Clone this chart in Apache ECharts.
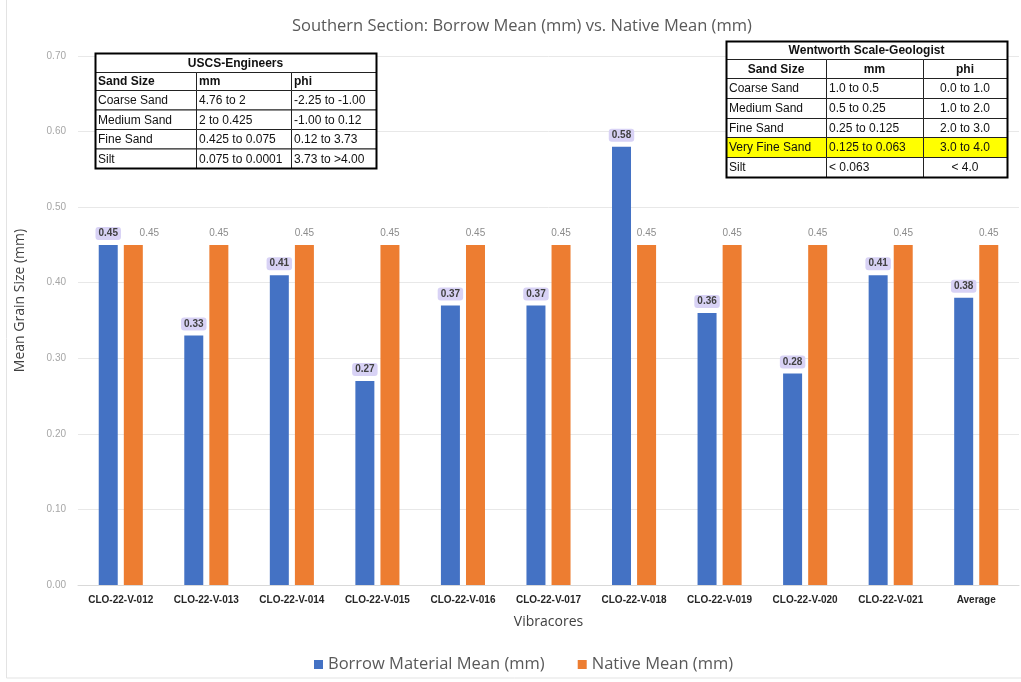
<!DOCTYPE html>
<html>
<head>
<meta charset="utf-8">
<script src="https://cdn.jsdelivr.net/npm/echarts@6/dist/echarts.min.js"></script>
<style>
  html, body { margin: 0; padding: 0; background: #ffffff; }
  #chart { width: 1021px; height: 682px; }
</style>
</head>
<body>
<div id="chart"></div>
<script>
// Vibracore sample names along the x axis
const categories = [
  'CLO-22-V-012', 'CLO-22-V-013', 'CLO-22-V-014', 'CLO-22-V-015', 'CLO-22-V-016',
  'CLO-22-V-017', 'CLO-22-V-018', 'CLO-22-V-019', 'CLO-22-V-020', 'CLO-22-V-021', 'Average'
];

// Mean grain size (mm)
const borrowMean = [0.45, 0.33, 0.41, 0.27, 0.37, 0.37, 0.58, 0.36, 0.28, 0.41, 0.38];
const nativeMean = [0.45, 0.45, 0.45, 0.45, 0.45, 0.45, 0.45, 0.45, 0.45, 0.45, 0.45];

const seriesNames = ['Borrow Material Mean (mm)', 'Native Mean (mm)'];

// Grain size classification tables
const uscsTitle = 'USCS-Engineers';
const uscsHeader = ['Sand Size', 'mm', 'phi'];
const uscsRows = [
  ['Coarse Sand', '4.76 to 2', '-2.25 to -1.00'],
  ['Medium Sand', '2 to 0.425', '-1.00 to 0.12'],
  ['Fine Sand', '0.425 to 0.075', '0.12 to 3.73'],
  ['Silt', '0.075 to 0.0001', '3.73 to >4.00']
];

const wentTitle = 'Wentworth Scale-Geologist';
const wentHeader = ['Sand Size', 'mm', 'phi'];
const wentRows = [
  ['Coarse Sand', '1.0 to 0.5', '0.0 to 1.0'],
  ['Medium Sand', '0.5 to 0.25', '1.0 to 2.0'],
  ['Fine Sand', '0.25 to 0.125', '2.0 to 3.0'],
  ['Very Fine Sand', '0.125 to 0.063', '3.0 to 4.0'],
  ['Silt', '< 0.063', '< 4.0']
];
const wentHighlight = 'Very Fine Sand';

const BLUE = '#4472C4';
const ORANGE = '#ED7D31';
const TABLE_FONT = '"Liberation Sans", Arial, sans-serif';
const UI_FONT = '"Open Sans", "Noto Sans", sans-serif';

// Builds a bordered table out of graphic rects and texts
function buildTable(o) {
  const els = [];
  const W = o.cols.reduce((a, b) => a + b, 0);
  let y = o.y;
  const cellText = (str, x, yy, align, bold) => ({
    type: 'text', x: x, y: yy, z: 101,
    style: {
      text: str, fill: '#111111', fontFamily: TABLE_FONT, fontSize: 12,
      fontWeight: bold ? 'bold' : 'normal', align: align, verticalAlign: 'middle'
    }
  });
  const cellRect = (x, yy, w, h, fill) => ({
    type: 'rect', z: 100,
    shape: { x: x + 0.5, y: yy + 0.5, width: w, height: h },
    style: { fill: fill, stroke: '#222222', lineWidth: 1 }
  });
  els.push(cellRect(o.x, y, W, o.rows[0], '#ffffff'));
  els.push(cellText(o.title, o.x + W / 2, y + o.rows[0] / 2 + 1, 'center', true));
  y += o.rows[0];
  [o.header].concat(o.data).forEach((row, r) => {
    const h = o.rows[r + 1];
    const fill = (o.highlight && row[0] === o.highlight) ? '#FFFF00' : '#ffffff';
    let x = o.x;
    row.forEach((cell, c) => {
      const w = o.cols[c];
      els.push(cellRect(x, y, w, h, fill));
      const al = (r === 0 ? o.headAlign : o.bodyAlign)[c];
      const tx = al === 'center' ? x + w / 2 : x + 3;
      els.push(cellText(cell, tx, y + h / 2 + 1, al, r === 0));
      x += w;
    });
    y += h;
  });
  els.push({
    type: 'rect', z: 102,
    shape: { x: o.x + 0.5, y: o.y + 0.5, width: W, height: y - o.y },
    style: { fill: 'none', stroke: '#000000', lineWidth: 2 }
  });
  return els;
}

const uscsTable = buildTable({
  x: 95, y: 53, cols: [101, 95, 85], rows: [19, 18, 19.5, 19.5, 19.5, 19.5],
  title: uscsTitle, header: uscsHeader, data: uscsRows,
  headAlign: ['left', 'left', 'left'], bodyAlign: ['left', 'left', 'left']
});

const wentTable = buildTable({
  x: 726, y: 41, cols: [100, 97, 84], rows: [18, 19, 20, 20, 19, 20, 20],
  title: wentTitle, header: wentHeader, data: wentRows, highlight: wentHighlight,
  headAlign: ['center', 'center', 'center'], bodyAlign: ['left', 'left', 'center']
});

const chart = echarts.init(document.getElementById('chart'));

chart.setOption({
  backgroundColor: '#ffffff',
  animation: false,
  textStyle: { fontFamily: UI_FONT },
  title: {
    text: 'Southern Section: Borrow Mean (mm) vs. Native Mean (mm)',
    left: 292, top: 18, padding: 0,
    textStyle: { fontFamily: UI_FONT, fontSize: 16.5, fontWeight: 'normal', color: '#595959' }
  },
  legend: {
    data: seriesNames,
    left: 309, top: 651,
    itemWidth: 9, itemHeight: 9, itemGap: 33,
    icon: 'rect',
    textStyle: { fontFamily: UI_FONT, fontSize: 16.5, color: '#595959' }
  },
  grid: { left: 78, right: 2, top: 56, bottom: 97, outerBoundsMode: 'none' },
  xAxis: {
    type: 'category',
    data: categories,
    name: 'Vibracores',
    nameLocation: 'middle',
    nameGap: 30,
    nameTextStyle: { fontFamily: UI_FONT, fontSize: 14, color: '#404040' },
    axisLine: { lineStyle: { color: '#D9D9D9' } },
    axisTick: { show: false },
    axisLabel: {
      interval: 0, margin: 10, fontSize: 10, fontWeight: 'bold',
      fontFamily: TABLE_FONT, color: '#262626'
    }
  },
  yAxis: {
    type: 'value',
    min: 0, max: 0.7, interval: 0.1,
    name: 'Mean Grain Size (mm)',
    nameLocation: 'middle',
    nameGap: 51,
    nameTextStyle: { fontFamily: UI_FONT, fontSize: 14, color: '#404040', padding: [0, 0, 0, 40] },
    axisLine: { show: false },
    axisTick: { show: false },
    axisLabel: {
      margin: 12, fontSize: 10, color: '#A6A6A6', fontFamily: TABLE_FONT,
      formatter: v => v.toFixed(2)
    },
    splitLine: { lineStyle: { color: '#E8E8E8' } }
  },
  series: [
    {
      name: seriesNames[0],
      type: 'bar',
      data: borrowMean,
      barWidth: 19,
      barGap: '32%',
      itemStyle: { color: BLUE },
      label: {
        show: true, position: 'top', distance: 5,
        formatter: p => p.value.toFixed(2),
        fontFamily: TABLE_FONT, fontSize: 10, fontWeight: 'bold', color: '#404040',
        backgroundColor: '#D8D2F5', padding: [1, 3], lineHeight: 11, borderRadius: 3
      }
    },
    {
      name: seriesNames[1],
      type: 'bar',
      // the first native label is nudged right so it clears its neighbour
      data: nativeMean.map((v, i) => i === 0 ? { value: v, label: { offset: [16, 0] } } : v),
      barWidth: 19,
      itemStyle: { color: ORANGE },
      label: {
        show: true, position: 'top', distance: 5,
        formatter: p => Number(p.value).toFixed(2),
        fontFamily: TABLE_FONT, fontSize: 10, color: '#8C8C8C',
        padding: [1, 3], lineHeight: 11
      }
    }
  ],
  graphic: [
    {
      type: 'rect', z: 0, silent: true,
      shape: { x: 6.5, y: -2, width: 1020, height: 680 },
      style: { fill: 'none', stroke: '#E3E3E3', lineWidth: 1 }
    }
  ].concat(uscsTable, wentTable)
});
</script>
</body>
</html>
